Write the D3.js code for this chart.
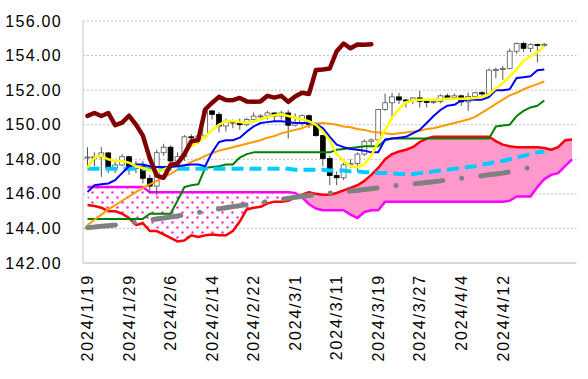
<!DOCTYPE html>
<html>
<head>
<meta charset="utf-8">
<script src="https://cdn.jsdelivr.net/npm/d3@7"></script>
<style>
body { margin: 0; background: #fff; }
text { font-family: "Liberation Sans", Arial, sans-serif; }
</style>
</head>
<body>
<svg width="588" height="379"></svg>
<script>
// categories (weekdays), the last ones are the cloud only
var dates = ["2024/1/19","2024/1/22","2024/1/23","2024/1/24","2024/1/25","2024/1/26",
  "2024/1/29","2024/1/30","2024/1/31","2024/2/1","2024/2/2",
  "2024/2/5","2024/2/6","2024/2/7","2024/2/8","2024/2/9",
  "2024/2/12","2024/2/13","2024/2/14","2024/2/15","2024/2/16",
  "2024/2/19","2024/2/20","2024/2/21","2024/2/22","2024/2/23",
  "2024/2/26","2024/2/27","2024/2/28","2024/2/29","2024/3/1",
  "2024/3/4","2024/3/5","2024/3/6","2024/3/7","2024/3/8",
  "2024/3/11","2024/3/12","2024/3/13","2024/3/14","2024/3/15",
  "2024/3/18","2024/3/19","2024/3/20","2024/3/21","2024/3/22",
  "2024/3/25","2024/3/26","2024/3/27","2024/3/28","2024/3/29",
  "2024/4/1","2024/4/2","2024/4/3","2024/4/4","2024/4/5",
  "2024/4/8","2024/4/9","2024/4/10","2024/4/11","2024/4/12",
  "2024/4/15","2024/4/16","2024/4/17","2024/4/18","2024/4/19",
  "2024/4/22","2024/4/23","2024/4/24","2024/4/25","2024/4/26"];
var tickLabels = ["2024/1/19","2024/1/29","2024/2/6","2024/2/14","2024/2/22","2024/3/1",
  "2024/3/11","2024/3/19","2024/3/27","2024/4/4","2024/4/12"];
var yTicks = [142, 144, 146, 148, 150, 152, 154, 156];

// daily candles
var open = [148.10,148.13,148.12,148.37,147.50,147.67,148.15,147.47,147.60,146.90,
  146.45,148.38,148.70,147.90,148.15,149.30,149.28,149.35,150.80,150.60,
  149.93,150.20,150.10,150.00,150.30,150.50,150.51,150.68,150.50,150.68,
  149.97,150.12,150.52,150.01,149.37,148.05,147.06,146.93,147.68,147.75,
  148.30,149.04,149.12,150.88,151.27,151.61,151.43,151.42,151.55,151.35,
  151.33,151.35,151.67,151.57,151.67,151.32,151.63,151.85,151.78,153.16,
  153.20,153.25,154.25,154.70,154.42,154.64,154.62];
var high = [148.70,148.40,148.70,148.40,147.90,148.30,148.20,147.90,147.90,147.10,
  148.55,148.90,148.80,148.40,149.40,149.45,149.50,150.90,150.85,150.75,
  150.35,150.30,150.35,150.40,150.70,150.60,150.80,150.70,150.80,150.85,
  150.65,150.60,150.60,150.10,149.40,148.20,147.30,147.80,148.00,148.40,
  149.15,149.20,150.90,151.80,151.85,151.85,151.50,151.60,151.95,151.45,
  151.40,151.75,151.80,151.80,151.75,151.85,151.90,151.95,153.25,153.30,
  153.40,154.40,154.75,154.80,154.70,154.70,154.72];
var low = [147.65,147.60,146.98,147.20,147.20,147.60,147.10,147.20,146.60,146.00,
  145.90,148.20,147.60,147.60,147.90,148.90,148.90,149.20,150.30,149.55,
  149.60,149.80,149.70,149.90,150.10,150.30,150.30,150.20,150.30,149.20,
  149.90,149.90,149.80,149.30,147.60,146.50,146.50,146.80,147.50,147.30,
  148.20,148.80,149.10,150.80,150.30,151.20,151.00,151.20,151.00,151.00,
  151.20,151.25,151.50,151.50,151.10,150.80,151.60,151.60,151.60,152.70,
  152.60,153.20,154.10,154.20,154.20,153.60,154.50];
var close = [148.13,148.12,148.37,147.50,147.67,148.15,147.47,147.60,146.90,146.45,
  148.38,148.70,147.90,148.15,149.30,149.28,149.35,150.80,150.60,149.93,
  150.20,150.10,150.00,150.30,150.50,150.51,150.68,150.50,150.68,149.97,
  150.12,150.52,150.01,149.37,148.05,147.06,146.93,147.68,147.75,148.30,
  149.04,149.12,150.88,151.27,151.61,151.43,151.42,151.55,151.35,151.33,
  151.35,151.67,151.57,151.67,151.32,151.63,151.85,151.78,153.16,153.20,
  153.25,154.25,154.70,154.42,154.64,154.62,154.65];

// indicator lines
var tenkan = [147.5,148.1,148.2,148.0,147.9,147.9,147.8,147.6,147.5,147.35,
  147.3,147.4,147.6,147.8,148.4,148.75,149.0,149.3,149.7,150.0,
  150.2,150.2,150.15,150.1,150.2,150.3,150.45,150.55,150.6,150.5,
  150.4,150.3,150.2,150.0,149.6,149.1,148.3,147.9,147.6,147.55,
  147.7,148.2,149.0,149.7,150.4,150.9,151.3,151.4,151.45,151.45,
  151.45,151.45,151.5,151.5,151.5,151.5,151.55,151.6,151.75,152.1,
  152.4,152.8,153.2,153.7,153.95,154.2,154.55];
var blueLine = [146.1,146.5,146.55,146.6,146.8,147.2,147.6,147.7,147.7,147.6,
  147.55,147.55,147.55,147.6,147.65,147.7,147.7,147.6,148.4,149.0,
  149.1,149.1,149.25,149.6,149.9,150.1,150.15,150.2,150.2,150.15,
  150.1,150.1,150.1,150.05,149.8,149.3,148.85,148.7,148.6,148.55,
  148.5,148.4,148.4,149.15,149.2,149.25,149.3,149.5,149.7,150.1,
  150.5,150.85,151.1,151.15,151.4,151.45,151.45,151.45,151.6,152.0,
  152.0,152.05,152.7,152.75,152.8,153.15,153.2];
var kijun = [144.55,144.55,144.55,144.55,144.55,144.55,144.55,144.55,144.55,144.85,
  144.85,144.85,144.85,145.6,146.4,146.5,146.55,147.5,147.55,147.6,
  147.7,147.7,148.1,148.3,148.4,148.4,148.4,148.4,148.4,148.4,
  148.4,148.4,148.4,148.4,148.4,148.4,148.55,148.6,148.65,148.7,
  148.75,148.75,148.75,149.1,149.2,149.2,149.2,149.2,149.2,149.2,
  149.2,149.2,149.2,149.2,149.2,149.2,149.2,149.2,149.2,149.9,
  149.95,150.0,150.5,150.8,151.0,151.1,151.4];
var orangeLine = [144.2,144.5,144.8,145.1,145.35,145.6,145.85,146.1,146.35,146.55,
  146.75,146.95,147.15,147.4,147.6,147.85,148.0,148.2,148.35,148.5,
  148.6,148.7,148.8,148.9,149.0,149.1,149.25,149.35,149.5,149.6,
  149.7,149.8,149.95,150.05,150.1,150.05,150.0,149.9,149.85,149.75,
  149.7,149.6,149.55,149.5,149.45,149.5,149.55,149.6,149.65,149.75,
  149.8,149.9,150.0,150.1,150.2,150.3,150.45,150.7,150.95,151.2,
  151.45,151.7,151.85,152.05,152.2,152.35,152.5];
var cyanLine = [147.45,147.45,147.45,147.45,147.45,147.45,147.45,147.45,147.45,147.45,
  147.45,147.45,147.45,147.45,147.45,147.45,147.45,147.45,147.45,147.45,
  147.45,147.45,147.45,147.45,147.45,147.45,147.45,147.45,147.45,147.45,
  147.4,147.4,147.4,147.4,147.4,147.35,147.35,147.35,147.3,147.3,
  147.25,147.25,147.2,147.2,147.2,147.15,147.15,147.15,147.2,147.25,
  147.3,147.35,147.4,147.45,147.5,147.55,147.6,147.7,147.75,147.85,
  147.9,148.0,148.1,148.2,148.3,148.4,148.45];
var grayLine = [144.05,144.08,144.12,144.16,144.2,144.25,144.3,144.36,144.42,144.48,
  144.55,144.6,144.66,144.72,144.79,144.85,144.92,145.0,145.06,145.13,
  145.2,145.26,145.32,145.38,145.44,145.5,145.56,145.62,145.68,145.74,
  145.8,145.85,145.9,145.95,146.0,146.05,146.08,146.12,146.16,146.2,
  146.25,146.3,146.35,146.4,146.45,146.5,146.54,146.58,146.62,146.66,
  146.7,146.75,146.8,146.85,146.9,146.95,147.0,147.05,147.1,147.15,
  147.2,147.28,147.36,147.45,147.53,147.62,147.7];
var chikou = [150.51,150.68,150.50,150.68,149.97,150.12,150.52,150.01,149.37,148.05,
  147.06,146.93,147.68,147.75,148.30,149.04,149.12,150.88,151.27,151.61,
  151.43,151.42,151.55,151.35,151.33,151.35,151.67,151.57,151.67,151.32,
  151.63,151.85,151.78,153.16,153.20,153.25,154.25,154.70,154.42,154.64,
  154.62,154.65];

// cloud
var spanA = [145.35,145.3,145.2,145.0,145.0,144.85,144.6,144.2,144.3,143.85,
  143.85,143.65,143.45,143.25,143.3,143.6,143.5,143.6,143.65,143.6,
  143.6,143.85,144.4,145.1,145.2,145.25,145.45,145.55,145.55,145.6,
  145.8,145.95,146.1,146.0,145.95,145.95,146.05,146.2,146.35,146.5,
  146.75,147.1,147.5,148.0,148.3,148.45,148.55,148.7,149.0,149.2,
  149.3,149.3,149.3,149.3,149.3,149.3,149.3,149.3,149.3,149.05,
  148.85,148.75,148.7,148.7,148.7,148.7,148.65,148.55,148.7,149.1,149.15];
var spanB = [146.4,146.4,146.4,146.4,146.4,146.4,146.4,146.4,146.4,146.1,
  146.1,146.1,146.1,146.1,146.1,146.1,146.1,146.1,146.1,146.1,
  146.1,146.1,146.1,146.1,146.1,146.1,146.1,146.1,146.1,146.1,
  146.05,145.8,145.4,145.15,145.05,145.05,145.05,145.05,144.8,144.6,
  144.95,145.05,145.05,145.55,145.55,145.55,145.55,145.55,145.55,145.55,
  145.55,145.55,145.55,145.55,145.55,145.55,145.55,145.55,145.55,145.55,
  145.55,145.6,145.85,145.85,145.85,146.4,146.85,147.1,147.2,147.6,148.0];

var svg = d3.select("svg");
var plotLeft = 83, plotRight = 576.5, plotTop = 21, plotBottom = 263;

var x = d3.scaleBand()
    .domain(d3.range(dates.length))
    .range([plotLeft, plotRight])
    .padding(0.3);
function xc(i) { return x(i) + x.bandwidth() / 2; }

var y = d3.scaleLinear()
    .domain([142, 156])
    .range([plotBottom, plotTop]);

// dots for the bearish part of the cloud
var defs = svg.append("defs");
var pat = defs.append("pattern")
    .attr("id", "dots")
    .attr("patternUnits", "userSpaceOnUse")
    .attr("width", 10).attr("height", 10);
pat.append("rect").attr("width", 10).attr("height", 10).attr("fill", "#fff");
pat.append("circle").attr("cx", 2.5).attr("cy", 2.5).attr("r", 1.3).attr("fill", "#ff33cc");
pat.append("circle").attr("cx", 7.5).attr("cy", 7.5).attr("r", 1.3).attr("fill", "#ff33cc");

// gridlines
svg.append("g").selectAll("line")
    .data(yTicks.filter(function(d) { return d > 142; }))
    .enter().append("line")
    .attr("x1", plotLeft).attr("x2", plotRight)
    .attr("y1", function(d) { return y(d); })
    .attr("y2", function(d) { return y(d); })
    .attr("stroke", "#bfbfbf")
    .attr("stroke-dasharray", "2,2");

// cloud: two clipped areas
var idx = d3.range(spanA.length);
defs.append("clipPath").attr("id", "belowA").append("path")
    .attr("d", d3.area().x(xc).y0(plotBottom).y1(function(i) { return y(spanA[i]); })(idx));
defs.append("clipPath").attr("id", "belowB").append("path")
    .attr("d", d3.area().x(xc).y0(plotBottom).y1(function(i) { return y(spanB[i]); })(idx));

svg.append("path")
    .attr("d", d3.area().x(xc).y0(function(i) { return y(spanB[i]); }).y1(plotTop)(idx))
    .attr("clip-path", "url(#belowA)")
    .attr("fill", "#ff99cc");
svg.append("path")
    .attr("d", d3.area().x(xc).y0(function(i) { return y(spanA[i]); }).y1(plotTop)(idx))
    .attr("clip-path", "url(#belowB)")
    .attr("fill", "url(#dots)");

// axes lines
svg.append("line").attr("x1", plotLeft).attr("x2", plotLeft).attr("y1", plotTop).attr("y2", plotBottom)
    .attr("stroke", "#c8c8c8");
svg.append("line").attr("x1", plotLeft).attr("x2", plotRight).attr("y1", plotBottom).attr("y2", plotBottom)
    .attr("stroke", "#d9d9d9").attr("stroke-width", 2);

var line = d3.line()
    .x(function(d, i) { return xc(i); })
    .y(function(d) { return y(d); });

function drawLine(data, color, width, dash, cap) {
    svg.append("path")
        .datum(data)
        .attr("d", line)
        .attr("fill", "none")
        .attr("stroke", color)
        .attr("stroke-width", width)
        .attr("stroke-linejoin", "round")
        .attr("stroke-linecap", cap || "butt")
        .attr("stroke-dasharray", dash || null);
}

drawLine(spanB, "#ff00ff", 2.5);
drawLine(spanA, "#ff0000", 2.5);
drawLine(grayLine, "#808080", 5, "28,19,0.1,19", "round");

// candles
var candles = svg.append("g");
candles.selectAll("line")
    .data(close)
    .enter().append("line")
    .attr("x1", function(d, i) { return xc(i); })
    .attr("x2", function(d, i) { return xc(i); })
    .attr("y1", function(d, i) { return y(high[i]); })
    .attr("y2", function(d, i) { return y(low[i]); })
    .attr("stroke", "#555");
candles.selectAll("rect")
    .data(close)
    .enter().append("rect")
    .attr("x", function(d, i) { return x(i); })
    .attr("width", x.bandwidth())
    .attr("y", function(d, i) { return y(Math.max(open[i], d)); })
    .attr("height", function(d, i) { return Math.max(1, Math.abs(y(open[i]) - y(d))); })
    .attr("fill", function(d, i) { return d >= open[i] ? "#fff" : "#000"; })
    .attr("stroke", function(d, i) { return d >= open[i] ? "#555" : "#000"; })
    .attr("stroke-width", 0.8);

drawLine(kijun, "#008000", 2);
drawLine(orangeLine, "#ff9900", 2);
drawLine(cyanLine, "#00ccff", 4, "12,6");
drawLine(blueLine, "#0000ff", 2);
drawLine(tenkan, "#ffff00", 2.5);
drawLine(chikou, "#800000", 4.5, null, "round");

// y axis labels
var yAxis = svg.append("g")
    .attr("transform", "translate(" + plotLeft + ",0)")
    .call(d3.axisLeft(y).tickValues(yTicks).tickFormat(d3.format(".2f")).tickSize(0).tickPadding(21));
yAxis.select(".domain").remove();
yAxis.selectAll("text")
    .attr("font-size", 16)
    .attr("letter-spacing", 1.3)
    .attr("fill", "#000")
    .attr("font-family", "Liberation Sans, Arial, sans-serif");

// x axis labels
var xAxis = svg.append("g")
    .attr("transform", "translate(0," + plotBottom + ")")
    .call(d3.axisBottom(x)
        .tickValues(tickLabels.map(function(t) { return dates.indexOf(t); }))
        .tickFormat(function(i) { return dates[i]; })
        .tickSize(0));
xAxis.select(".domain").remove();
xAxis.selectAll("text")
    .attr("transform", "rotate(-90)")
    .attr("text-anchor", "end")
    .attr("x", -11)
    .attr("y", 0)
    .attr("dy", "0.36em")
    .attr("font-size", 16)
    .attr("letter-spacing", 1.8)
    .attr("fill", "#000")
    .attr("font-family", "Liberation Sans, Arial, sans-serif");
</script>
</body>
</html>
